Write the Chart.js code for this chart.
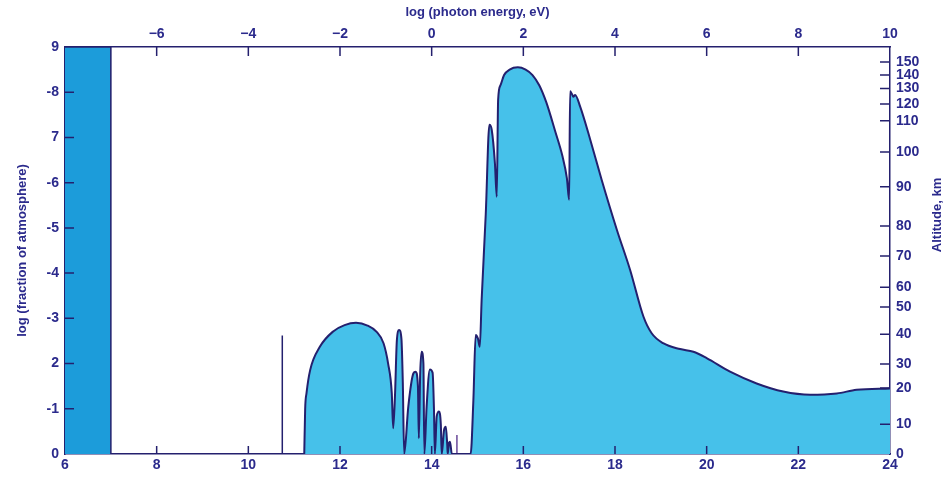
<!DOCTYPE html>
<html>
<head>
<meta charset="utf-8">
<script src="https://cdn.jsdelivr.net/npm/chart.js@4/dist/chart.umd.min.js"></script>
<style>
  body { margin: 0; background: #fff; }
</style>
</head>
<body>
<canvas id="chart" width="947" height="479"></canvas>
<script>
// bottom axis: log frequency (6..24), top axis: log photon energy
const bottomTicks = [6, 8, 10, 12, 14, 16, 18, 20, 22, 24];
const topTicks = [-6, -4, -2, 0, 2, 4, 6, 8, 10];
const leftLabels = ["0", "-1", "2", "-3", "-4", "-5", "-6", "7", "-8", "9"];

// altitude scale on the right, placed at log(fraction) positions
const altLabels = ["0", "10", "20", "30", "40", "50", "60", "70", "80", "90", "100", "110", "120", "130", "140", "150"];
const altPos = [0, 0.66, 1.46, 1.99, 2.65, 3.25, 3.69, 4.38, 5.04, 5.91, 6.68, 7.37, 7.74, 8.08, 8.38, 8.67];

// radio band 6..7
const bandX = [6, 7, 7.001];
const bandY = [9, 9, 0];

// main absorption curve
const curveX = [11.22, 11.24, 11.27, 11.35, 11.56, 11.85, 12.1, 12.35, 12.6, 12.8, 12.95, 13.05, 13.13, 13.16, 13.2, 13.24, 13.29, 13.34, 13.37, 13.4,
  13.49, 13.6, 13.65, 13.7, 13.72, 13.75, 13.78, 13.82, 13.84, 13.89, 13.96, 14.02, 14.05, 14.07, 14.11, 14.16, 14.2, 14.22,
  14.27, 14.31, 14.34, 14.35, 14.38, 14.4, 14.44, 14.85, 14.91, 14.96, 15.01, 15.05, 15.09, 15.18, 15.26, 15.31, 15.38, 15.42,
  15.45, 15.5, 15.58, 15.7, 15.88, 16.05, 16.2, 16.35, 16.5, 16.7, 16.85, 16.95, 17.0, 17.02, 17.06, 17.09, 17.13, 17.24, 17.46, 17.71, 18.04,
  18.33, 18.62, 18.8, 19.05, 19.42, 19.71, 20.0, 20.51, 21.09, 21.67, 22.26, 22.84, 23.27, 24.0];
const curveY = [0, 1.0, 1.35, 1.86, 2.37, 2.71, 2.85, 2.9, 2.84, 2.7, 2.45, 2.0, 1.34, 0.57, 1.3, 2.5, 2.74, 2.55, 1.6, 0,
  1.05, 1.78, 1.82, 1.5, 0.35, 1.79, 2.26, 2.0, 0, 1.05, 1.87, 1.8, 1.0, 0, 0.83, 0.94, 0.65, 0,
  0.53, 0.6, 0.2, 0, 0.25, 0.27, 0, 0, 1.19, 2.63, 2.55, 2.37, 3.4, 5.3, 7.28, 7.17, 6.43, 5.69,
  7.83, 8.15, 8.38, 8.5, 8.55, 8.5, 8.38, 8.15, 7.78, 7.12, 6.6, 6.1, 5.62, 8.02, 7.96, 7.9, 7.94, 7.68, 6.95, 6.06, 4.96,
  4.07, 3.04, 2.67, 2.45, 2.32, 2.26, 2.12, 1.82, 1.56, 1.38, 1.31, 1.34, 1.42, 1.45];

// thin isolated lines
const spikeX = [10.74, 11.95, 14.55];
const spikeY = [2.62, 0.16, 0.42];

const ink = "#24206e";
const textCol = "#2b2a8c";
const font = { family: "Liberation Sans", size: 14, weight: "bold" };

const pts = (xs, ys) => xs.map((x, i) => ({ x: x, y: ys[i] }));

const datasets = [
  {
    data: pts(bandX, bandY),
    showLine: true, pointRadius: 0, tension: 0,
    borderColor: ink, borderWidth: 1.5,
    backgroundColor: "#1c9cda", fill: "origin"
  },
  {
    data: pts(curveX, curveY),
    showLine: true, pointRadius: 0, cubicInterpolationMode: "monotone",
    borderColor: ink, borderWidth: 2,
    backgroundColor: "#46c1ea", fill: "origin"
  }
];
spikeX.forEach((x, i) => {
  datasets.push({
    data: [{ x: x, y: 0 }, { x: x + 0.001, y: spikeY[i] }],
    showLine: true, pointRadius: 0, tension: 0,
    borderColor: i == 2 ? "#6a4a9a" : ink, borderWidth: 1.5, fill: false
  });
});

const insideTicks = {
  id: "insideTicks",
  afterDraw(chart) {
    const ctx = chart.ctx, a = chart.chartArea;
    const s = chart.scales;
    ctx.save();
    ctx.strokeStyle = ink;
    ctx.lineWidth = 1.5;
    ctx.beginPath();
    s.x.ticks.forEach(t => {
      const p = s.x.getPixelForValue(t.value);
      if (p > a.left + 1 && p < a.right - 1) { ctx.moveTo(p, a.bottom); ctx.lineTo(p, a.bottom - 8); }
    });
    s.x2.ticks.forEach(t => {
      const p = s.x2.getPixelForValue(t.value);
      if (p > a.left + 1 && p < a.right - 1) { ctx.moveTo(p, a.top); ctx.lineTo(p, a.top + 9); }
    });
    s.y.ticks.forEach(t => {
      const p = s.y.getPixelForValue(t.value);
      if (p > a.top + 1 && p < a.bottom - 1) { ctx.moveTo(a.left, p); ctx.lineTo(a.left + 9, p); }
    });
    s.y2.ticks.forEach(t => {
      const p = s.y2.getPixelForValue(t.value);
      if (p > a.top + 1 && p < a.bottom - 1) { ctx.moveTo(a.right, p); ctx.lineTo(a.right - 10, p); }
    });
    ctx.stroke();
    // right axis title reads bottom to top
    ctx.fillStyle = textCol;
    ctx.font = "bold 13px 'Liberation Sans'";
    ctx.textAlign = "center";
    ctx.textBaseline = "middle";
    ctx.translate(937, 215);
    ctx.rotate(-Math.PI / 2);
    ctx.fillText("Altitude, km", 0, 0);
    ctx.restore();
  }
};

const axisGrid = { display: true, drawOnChartArea: false, drawTicks: false };
const axisBorder = { display: true, color: ink, width: 1.5 };

new Chart("chart", {
  type: "scatter",
  data: { datasets: datasets },
  options: {
    responsive: false,
    animation: false,
    layout: { padding: 0 },
    plugins: { legend: { display: false }, tooltip: { enabled: false } },
    scales: {
      x: {
        type: "linear", position: "bottom", min: 6, max: 24,
        afterBuildTicks: sc => { sc.ticks = bottomTicks.map(v => ({ value: v })); },
        afterFit: sc => { sc.height = 25; },
        grid: axisGrid, border: axisBorder,
        ticks: { color: textCol, font: font, padding: 3, maxRotation: 0 }
      },
      x2: {
        type: "linear", position: "top", min: -8, max: 10,
        afterBuildTicks: sc => { sc.ticks = topTicks.map(v => ({ value: v })); },
        afterFit: sc => { sc.height = 47; },
        grid: axisGrid, border: axisBorder,
        ticks: { color: textCol, font: font, padding: 4, maxRotation: 0,
          callback: v => (v < 0 ? "\u2212" + Math.abs(v) : "" + v) },
        title: { display: true, text: "log (photon energy, eV)", color: textCol,
          font: { family: "Liberation Sans", size: 13, weight: "bold" }, padding: { top: 5, bottom: 0 } }
      },
      y: {
        type: "linear", position: "left", min: 0, max: 9,
        afterBuildTicks: sc => { sc.ticks = leftLabels.map((l, i) => ({ value: i })); },
        afterFit: sc => { sc.width = 65; },
        grid: axisGrid, border: axisBorder,
        ticks: { color: textCol, font: font, padding: 6, callback: v => leftLabels[v] },
        title: { display: true, text: "log (fraction of atmosphere)", color: textCol,
          font: { family: "Liberation Sans", size: 13, weight: "bold" }, padding: { top: 15, bottom: 0 } }
      },
      y2: {
        type: "linear", position: "right", min: 0, max: 9,
        afterBuildTicks: sc => { sc.ticks = altPos.map(v => ({ value: v })); },
        afterFit: sc => { sc.width = 57; },
        grid: axisGrid, border: axisBorder,
        ticks: { color: textCol, font: font, padding: 6, autoSkip: false,
          callback: (v, i) => altLabels[i] }
      }
    }
  },
  plugins: [insideTicks]
});
</script>
</body>
</html>
